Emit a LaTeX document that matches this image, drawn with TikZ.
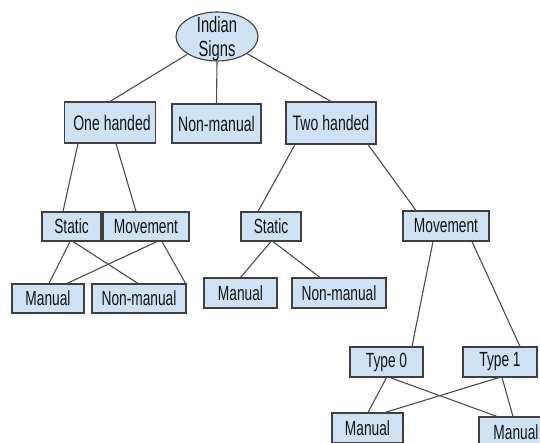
\documentclass[tikz,border=0pt]{standalone}
\usepackage{fontspec}
\setmainfont[FakeStretch=0.67]{Liberation Sans}
\usetikzlibrary{shapes.geometric}
\definecolor{boxfill}{HTML}{CFE2F3}
\definecolor{boxline}{HTML}{3F3F3F}
\definecolor{wire}{HTML}{4D4D4D}
\definecolor{txt}{HTML}{141414}
\newcommand{\padr}[2]{#2\hspace{#1}}
\begin{document}
\begin{tikzpicture}[x=1pt,y=-1pt,
  box/.style={draw=boxline,fill=boxfill,line width=1.1pt,inner sep=0pt,text=txt,
    font=\fontsize{20.5}{20}\selectfont},
  topbox/.style={box,font=\fontsize{21}{20}\selectfont},
  wire/.style={draw=wire,line width=1.1pt}]
\clip (0,0) rectangle (540,443);
\fill[white] (0,0) rectangle (540,443);
\node[box,ellipse,minimum width=82pt,minimum height=49pt,
  font=\fontsize{22}{24}\selectfont] (root) at (217,36.5)
  {\raisebox{-20.5pt}[0pt][0pt]{\begin{tabular}[b]{@{}c@{}}Indian\\Signs\end{tabular}}};
\node[topbox,minimum width=91pt,minimum height=41pt] (oh) at (110,122.5) {\hspace{4pt}One handed};
\node[topbox,minimum width=89pt,minimum height=39pt] (nm) at (216.5,123.5) {\padr{3pt}{Non-manual}};
\node[topbox,minimum width=90pt,minimum height=42pt] (th) at (331,123) {Two handed};
\node[box,minimum width=59pt,minimum height=29pt] (s1) at (71.5,226.5) {\padr{10pt}{Static}};
\node[box,minimum width=86pt,minimum height=29pt] (m1) at (146,226.5) {\padr{4pt}{Movement}};
\node[box,minimum width=72pt,minimum height=29pt] (ma1) at (48,298.5) {\padr{12pt}{Manual}};
\node[box,minimum width=94pt,minimum height=29pt] (nm1) at (139,298.5) {Non-manual};
\node[box,minimum width=60pt,minimum height=29pt] (s2) at (271,226.5) {\padr{10pt}{Static}};
\node[box,minimum width=73pt,minimum height=30pt] (ma2) at (240.5,293) {\padr{12pt}{Manual}};
\node[box,minimum width=94pt,minimum height=30pt] (nm2) at (339,293) {\padr{3pt}{Non-manual}};
\node[box,minimum width=86pt,minimum height=30pt] (m2) at (446,226) {\padr{4pt}{Movement}};
\node[box,minimum width=73pt,minimum height=30pt] (t0) at (386.5,362) {\padr{14pt}{Type 0}};
\node[box,minimum width=74pt,minimum height=30pt] (t1) at (500,362) {\padr{16pt}{Type 1}};
\node[box,minimum width=71pt,minimum height=30pt] (ma3) at (367.5,428) {\padr{12pt}{Manual}};
\node[box,minimum width=74pt,minimum height=30pt] (ma4) at (516,432) {\padr{10pt}{Manual}};
% connectors
\draw[wire] ([shift={(-30,18)}]root.center) -- (oh.north);
\draw[wire] (root.south) -- (nm.north);
\draw[wire] ([shift={(30,17)}]root.center) -- (th.north);
\draw[wire] ([xshift=-32pt]oh.south) -- ([xshift=-8.5pt]s1.north);
\draw[wire] ([xshift=6pt]oh.south) -- ([xshift=-10pt]m1.north);
\draw[wire] ([xshift=-36pt]th.south) -- ([xshift=-13pt]s2.north);
\draw[wire] ([xshift=37pt]th.south) -- ([xshift=-30pt]m2.north);
\draw[wire] ([xshift=-1.5pt]s1.south) -- ([xshift=1pt]ma1.north);
\draw[wire] ([xshift=1.5pt]s1.south) -- ([xshift=-1pt]nm1.north);
\draw[wire] ([xshift=11pt]m1.south) -- ([xshift=19pt]ma1.north);
\draw[wire] ([xshift=16pt]m1.south) -- ([xshift=-1pt]nm1.north east);
\draw[wire] (s2.south) -- (ma2.north);
\draw[wire] ([xshift=2pt]s2.south) -- ([xshift=-19pt]nm2.north);
\draw[wire] ([xshift=-13pt]m2.south) -- ([xshift=25.5pt]t0.north);
\draw[wire] ([xshift=26pt]m2.south) -- ([xshift=20pt]t1.north);
\draw[wire] (t0.south) -- ([xshift=0.5pt]ma3.north);
\draw[wire] ([xshift=3.5pt]t0.south) -- ([xshift=-19pt]ma4.north);
\draw[wire] ([xshift=-1pt]t1.south) -- ([xshift=17.5pt]ma3.north);
\draw[wire] ([xshift=2pt]t1.south) -- ([xshift=-3pt]ma4.north);
\end{tikzpicture}
\end{document}
